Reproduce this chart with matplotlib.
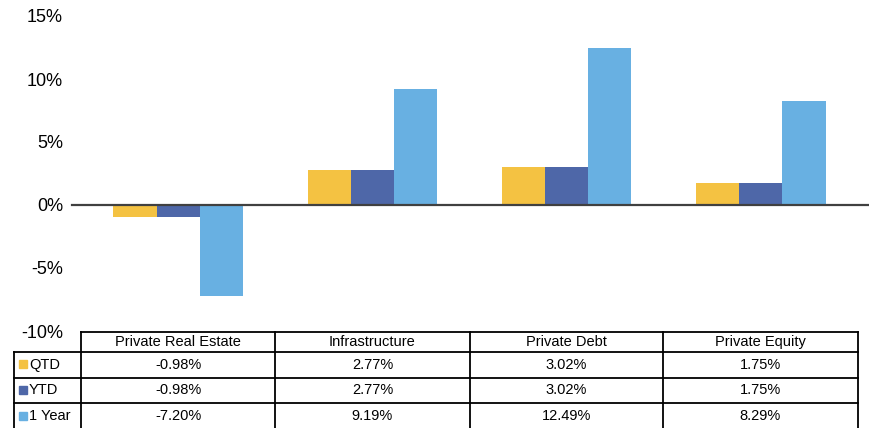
import matplotlib as mpl
import matplotlib.pyplot as plt
from matplotlib.lines import Line2D
from matplotlib.patches import Rectangle
import numpy as np

mpl.rcParams["font.family"] = ['Liberation Sans', 'DejaVu Sans']

# data
categories = ['Private Real Estate', 'Infrastructure', 'Private Debt', 'Private Equity']
series_names = ['QTD', 'YTD', '1 Year']
qtd = [-0.98, 2.77, 3.02, 1.75]
ytd = [-0.98, 2.77, 3.02, 1.75]
one_year = [-7.20, 9.19, 12.49, 8.29]
colors = ['#F4C242', '#4E67A8', '#68B0E2']
yticks = [-10, -5, 0, 5, 10, 15]

W, H = 869, 428
fig = plt.figure(figsize=(W / 100, H / 100), dpi=100)

def fx(px):
    return px / W

def fy(py):
    return 1 - py / H

# chart area (pixel layout)
left, right, top, bottom = 81, 858, 16, 331
ax = fig.add_axes([fx(left), fy(bottom), fx(right - left), fy(top) - fy(bottom)])

x = np.arange(len(categories))
bw = 0.222
for i, vals in enumerate([qtd, ytd, one_year]):
    ax.bar(x + (i - 1) * bw, vals, width=bw, color=colors[i], edgecolor='none', zorder=2)

ax.set_xlim(-0.5, len(categories) - 0.5)
ax.set_ylim(-10, 15)
ax.set_yticks(yticks)
ax.set_yticklabels([f'{t}%' for t in yticks], fontsize=13)
ax.tick_params(axis='y', length=0, pad=13)
ax.set_xticks([])
for s in ax.spines.values():
    s.set_visible(False)
# zero line reaches past the plot area
ax.axhline(0, xmin=(72 - left) / (right - left), xmax=(W - left) / (right - left),
           color='#404040', lw=1.6, clip_on=False, zorder=3)

# data table under the chart
col_edges = [14, 81, 275, 470, 663, 858]
row_edges = [332, 352, 378, 403, 430]
lc = 'black'
lw = 1.3

def hline(py, x0, x1):
    fig.add_artist(Line2D([fx(x0), fx(x1)], [fy(py), fy(py)], color=lc, lw=lw))

def vline(px, y0, y1):
    fig.add_artist(Line2D([fx(px), fx(px)], [fy(y0), fy(y1)], color=lc, lw=lw))

hline(row_edges[0], col_edges[1], col_edges[-1])
for py in row_edges[1:]:
    hline(py, col_edges[0], col_edges[-1])
vline(col_edges[0], row_edges[1], row_edges[-1])
for px in col_edges[1:]:
    vline(px, row_edges[0], row_edges[-1])

fs = 10.5
for j, cat in enumerate(categories):
    cx = (col_edges[j + 1] + col_edges[j + 2]) / 2
    cy = (row_edges[0] + row_edges[1]) / 2
    fig.text(fx(cx), fy(cy), cat, ha='center', va='center', fontsize=fs)

for i, (name, vals) in enumerate(zip(series_names, [qtd, ytd, one_year])):
    cy = (row_edges[i + 1] + row_edges[i + 2]) / 2
    fig.add_artist(Rectangle((fx(19), fy(cy + 3)), fx(8), 8 / H, color=colors[i]))
    fig.text(fx(29), fy(cy), name, ha='left', va='center', fontsize=fs)
    for j, v in enumerate(vals):
        cx = (col_edges[j + 1] + col_edges[j + 2]) / 2
        fig.text(fx(cx), fy(cy), f'{v:.2f}%', ha='center', va='center', fontsize=fs)

plt.savefig('out.png', dpi=100)
